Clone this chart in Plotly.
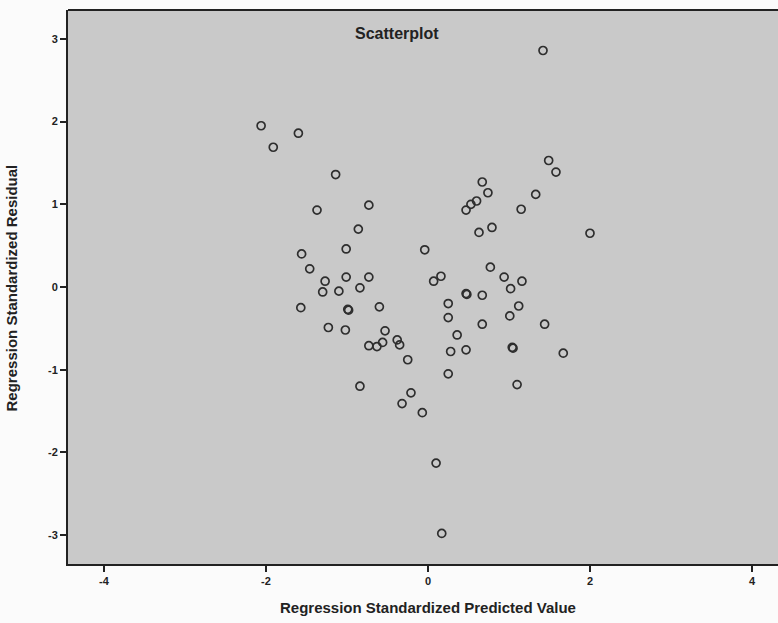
import plotly.graph_objects as go

pred = [-2.06, -1.60, -1.91, -1.14, -1.37, -0.73, -0.86, -1.56, -1.01, -1.46,
        -1.27, -1.01, -0.73, -1.30, -1.10, -0.84, -1.57, -0.99, -0.98, -0.60,
        -1.23, -1.02, -0.53, -0.73, -0.63, -0.56, -0.38, -0.35, -0.25, -0.84,
        -0.21, -0.32, -0.07, 0.10, 0.17, -0.04, 0.07, 0.16, 0.47, 0.48,
        0.67, 0.25, 0.25, 0.36, 0.28, 0.47, 0.25, 0.67, 0.67, 0.74,
        0.60, 0.53, 0.47, 0.63, 0.79, 0.77, 0.94, 1.16, 1.02, 1.12,
        1.01, 1.04, 1.05, 1.10, 1.44, 1.67, 1.42, 1.49, 1.58, 1.33,
        1.15, 2.00]
resid = [1.95, 1.86, 1.69, 1.36, 0.93, 0.99, 0.70, 0.40, 0.46, 0.22,
         0.07, 0.12, 0.12, -0.06, -0.05, -0.01, -0.25, -0.27, -0.28, -0.24,
         -0.49, -0.52, -0.53, -0.71, -0.72, -0.67, -0.64, -0.70, -0.88, -1.20,
         -1.28, -1.41, -1.52, -2.13, -2.98, 0.45, 0.07, 0.13, -0.08, -0.09,
         -0.10, -0.20, -0.37, -0.58, -0.78, -0.76, -1.05, -0.45, 1.27, 1.14,
         1.04, 1.00, 0.93, 0.66, 0.72, 0.24, 0.12, 0.07, -0.02, -0.23,
         -0.35, -0.73, -0.74, -1.18, -0.45, -0.80, 2.86, 1.53, 1.39, 1.12,
         0.94, 0.65]

x_ticks = [-4, -2, 0, 2, 4]
y_ticks = [-3, -2, -1, 0, 1, 2, 3]

title_text = "Scatterplot"
x_title = "Regression Standardized Predicted Value"
y_title = "Regression Standardized Residual"

FONT = "Liberation Sans, Arial, sans-serif"

fig = go.Figure()
fig.add_trace(go.Scatter(
    x=pred, y=resid, mode="markers",
    marker=dict(symbol="circle-open", size=8, color="#2e2e2e",
                line=dict(width=1.7, color="#2e2e2e")),
    showlegend=False, hoverinfo="skip"))

fig.update_layout(
    width=778, height=623,
    margin=dict(l=68, r=0, t=10, b=59),
    paper_bgcolor="#fbfbfb",
    plot_bgcolor="#c9c9c9",
    font=dict(family=FONT, color="#222222"),
    xaxis=dict(range=[-4.444, 4.321], tickvals=x_ticks,
               ticktext=[f"<b>{t}</b>" for t in x_ticks],
               ticks="outside", ticklen=6, tickwidth=1.5, tickcolor="#222222",
               showgrid=False, zeroline=False, showline=True, linecolor="#222222",
               linewidth=2, mirror=False, tickfont=dict(size=11, family=FONT)),
    yaxis=dict(range=[-3.35, 3.35], tickvals=y_ticks,
               ticktext=[f"<b>{t}</b>" for t in y_ticks],
               ticks="outside", ticklen=6, tickwidth=1.5, tickcolor="#222222",
               showgrid=False, zeroline=False, showline=True, linecolor="#222222",
               linewidth=2, mirror=False, tickfont=dict(size=11, family=FONT)),
    shapes=[dict(type="line", xref="paper", yref="paper", x0=0, x1=1, y0=1, y1=1,
                 line=dict(color="#222222", width=2))],
    annotations=[
        dict(text=f"<b>{title_text}</b>", xref="paper", yref="paper",
             x=0.463, y=0.958, xanchor="center", yanchor="middle",
             showarrow=False, font=dict(size=16, family=FONT, color="#222222")),
        dict(text=f"<b>{x_title}</b>", xref="paper", yref="paper",
             x=0.507, y=-0.078, xanchor="center", yanchor="middle",
             showarrow=False, font=dict(size=15, family=FONT, color="#222222")),
        dict(text=f"<b>{y_title}</b>", xref="paper", yref="paper",
             x=-0.079, y=0.499, xanchor="center", yanchor="middle", textangle=-90,
             showarrow=False, font=dict(size=15, family=FONT, color="#222222")),
    ],
)

fig.write_html("out.html")
